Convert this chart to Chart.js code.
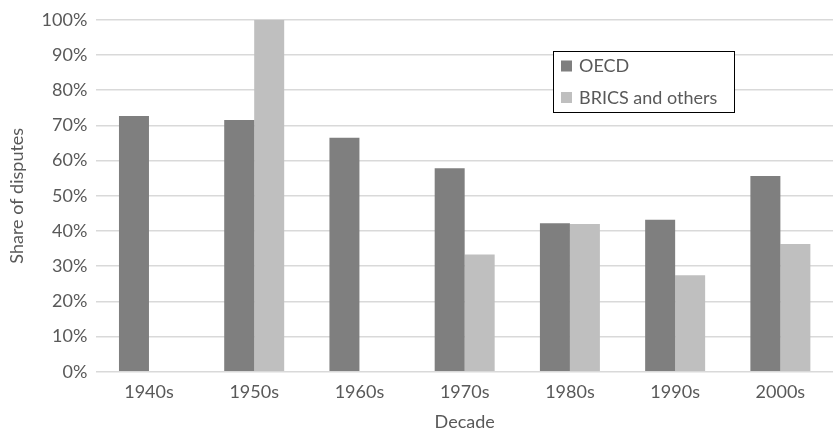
<!DOCTYPE html>
<html>
<head>
<meta charset="utf-8">
<script src="https://cdn.jsdelivr.net/npm/chart.js@4"></script>
<style>
  html, body { margin: 0; padding: 0; background: #fff; overflow: hidden; }
  #wrap { width: 833px; height: 436px; }
</style>
</head>
<body>
<div id="wrap"><canvas id="c"></canvas></div>
<script>
const decades = ['1940s', '1950s', '1960s', '1970s', '1980s', '1990s', '2000s'];
const oecdShare = [72.7, 71.5, 66.5, 57.8, 42.2, 43.2, 55.6];
const bricsShare = [null, 100, null, 33.3, 42.0, 27.4, 36.3];
const seriesNames = ['OECD', 'BRICS and others'];
const seriesColors = ['#7f7f7f', '#bfbfbf'];

const FONT = 'Lato, "Open Sans", sans-serif';
const TEXT = '#595959';
const SIZE = 18;

// Legend drawn as a boxed panel inside the plot area
const boxedLegend = {
  id: 'boxedLegend',
  afterDraw(chart) {
    const ctx = chart.ctx;
    const x = 553, y = 51, w = 181, h = 61;
    ctx.save();
    ctx.fillStyle = '#fff';
    ctx.fillRect(x, y, w, h);
    ctx.strokeStyle = '#000';
    ctx.lineWidth = 1;
    ctx.strokeRect(x + 0.5, y + 0.5, w, h);
    ctx.font = SIZE + 'px ' + FONT;
    ctx.textBaseline = 'middle';
    chart.data.datasets.forEach((ds, i) => {
      const cy = y + 15.5 + i * 31.5;
      ctx.fillStyle = ds.backgroundColor;
      ctx.fillRect(x + 8, cy - 6, 11, 11);
      ctx.fillStyle = TEXT;
      ctx.fillText(ds.label, x + 26, cy);
    });
    ctx.restore();
  }
};

new Chart(document.getElementById('c'), {
  type: 'bar',
  data: {
    labels: decades,
    datasets: [
      { label: seriesNames[0], data: oecdShare, backgroundColor: seriesColors[0] },
      { label: seriesNames[1], data: bricsShare, backgroundColor: seriesColors[1] }
    ]
  },
  options: {
    responsive: true,
    maintainAspectRatio: false,
    animation: false,
    layout: { padding: { top: 0, right: 0, left: 6, bottom: 3 } },
    datasets: { bar: { categoryPercentage: 0.57, barPercentage: 1.0 } },
    plugins: {
      legend: { display: false },
      tooltip: { enabled: false }
    },
    scales: {
      x: {
        grid: { display: false, drawTicks: false },
        border: { display: false },
        ticks: { color: TEXT, font: { family: FONT, size: SIZE }, padding: 10 },
        title: { display: true, text: 'Decade', color: TEXT, font: { family: FONT, size: SIZE }, padding: { top: -2, bottom: 0 } }
      },
      y: {
        min: 0, max: 100,
        grid: { color: '#d9d9d9', lineWidth: 1.5, drawTicks: false },
        border: { display: false },
        ticks: {
          stepSize: 10,
          color: TEXT,
          font: { family: FONT, size: SIZE },
          padding: 9,
          callback: v => v + '%'
        },
        title: { display: true, text: 'Share of disputes', color: TEXT, font: { family: FONT, size: SIZE }, padding: { top: 0, bottom: 5 } }
      }
    }
  },
  plugins: [boxedLegend]
});
</script>
</body>
</html>
